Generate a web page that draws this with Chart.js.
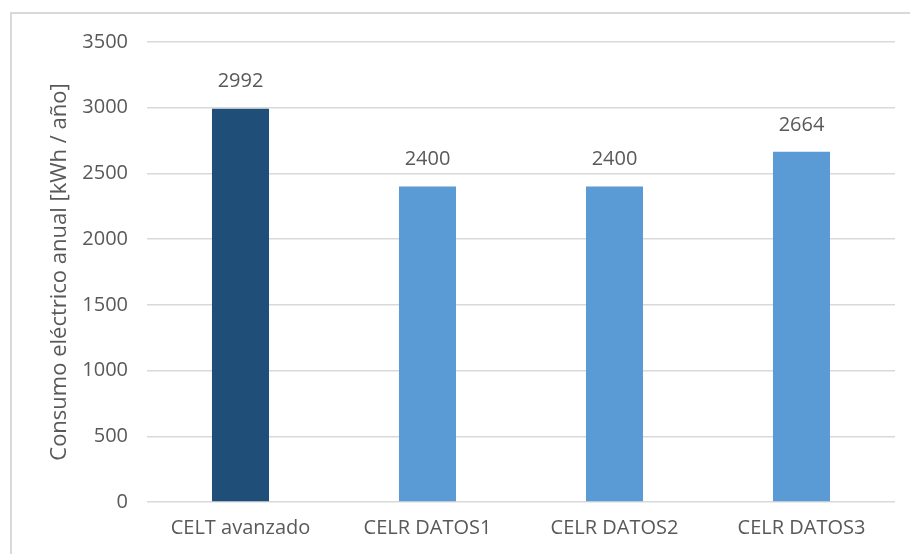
<!DOCTYPE html>
<html>
<head>
<meta charset="utf-8">
<script src="https://cdn.jsdelivr.net/npm/chart.js@4"></script>
<style>
  html, body { margin: 0; padding: 0; background: #fff; overflow: hidden; }
  #wrap { position: relative; width: 910px; height: 554px; }
  #marco {
    position: absolute; left: 10px; top: 12px; width: 960px; height: 600px;
    border-left: 2px solid #d9d9d9; border-top: 2px solid #d9d9d9;
    pointer-events: none;
  }
</style>
</head>
<body>
<div id="wrap">
  <canvas id="grafico"></canvas>
  <div id="marco"></div>
</div>
<script>
const categorias = ["CELT avanzado", "CELR DATOS1", "CELR DATOS2", "CELR DATOS3"];
const consumo = [2992, 2400, 2400, 2664];
const colores = ["#1F4E79", "#5B9BD5", "#5B9BD5", "#5B9BD5"];
const ticksY = [0, 500, 1000, 1500, 2000, 2500, 3000, 3500];

const fuente = "'Open Sans', 'Noto Sans', sans-serif";
const gris = "#595959";

// etiquetas de valor encima de cada barra
const etiquetas = {
  id: "etiquetas",
  afterDatasetsDraw(chart) {
    const ctx = chart.ctx;
    const meta = chart.getDatasetMeta(0);
    ctx.save();
    ctx.font = "20px " + fuente;
    ctx.fillStyle = gris;
    ctx.textAlign = "center";
    ctx.textBaseline = "middle";
    meta.data.forEach((bar, i) => {
      ctx.fillText(String(consumo[i]), bar.x, bar.y - 27);
    });
    ctx.restore();
  },
};

new Chart(document.getElementById("grafico"), {
  type: "bar",
  data: {
    labels: categorias,
    datasets: [
      {
        data: consumo,
        backgroundColor: colores,
        borderWidth: 0,
        categoryPercentage: 1,
        barPercentage: 0.305,
      },
    ],
  },
  options: {
    responsive: true,
    maintainAspectRatio: false,
    animation: false,
    layout: { padding: { top: 42, right: 15, bottom: 0, left: 0 } },
    plugins: {
      legend: { display: false },
      tooltip: { enabled: false },
    },
    scales: {
      x: {
        grid: { display: false, drawTicks: false },
        border: { display: false },
        ticks: {
          color: gris,
          padding: 14,
          font: { family: fuente, size: 20 },
        },
      },
      y: {
        min: 0,
        max: 3500,
        afterFit(scale) {
          scale.width = 147;
        },
        afterBuildTicks(scale) {
          scale.ticks = ticksY.map((v) => ({ value: v }));
        },
        grid: { color: "#d9d9d9", lineWidth: 1.5, drawTicks: false },
        border: { display: false },
        ticks: {
          color: gris,
          padding: 19,
          font: { family: fuente, size: 20 },
          callback: (v) => String(v),
        },
        title: {
          display: true,
          text: "Consumo eléctrico anual [kWh / año]",
          color: gris,
          padding: { top: 47, bottom: 0 },
          font: { family: fuente, size: 22 },
        },
      },
    },
  },
  plugins: [etiquetas],
});
</script>
</body>
</html>
